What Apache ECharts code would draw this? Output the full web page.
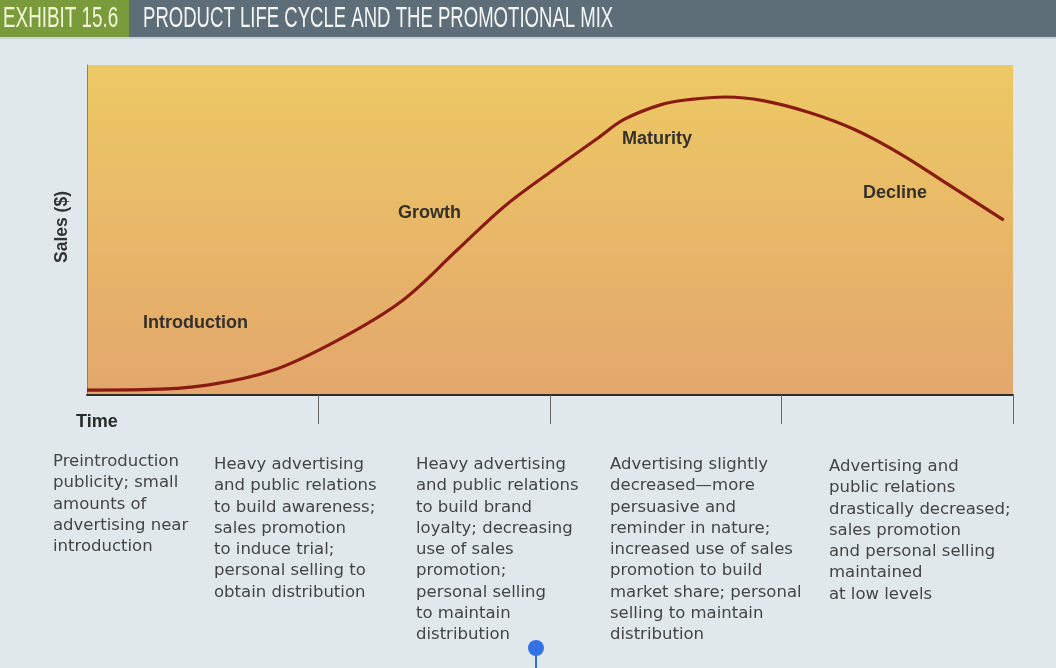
<!DOCTYPE html>
<html>
<head>
<meta charset="utf-8">
<title>Product Life Cycle and the Promotional Mix</title>
<script src="https://cdn.jsdelivr.net/npm/echarts@6/dist/echarts.min.js"></script>
<style>
  html, body { margin: 0; padding: 0; background: #e1e8eb; }
  #chart { width: 1056px; height: 668px; }
</style>
</head>
<body>
<div id="chart"></div>
<script>
// time position (0-100) and sales level (0-100) along the life-cycle curve
const timeX = [0, 6, 13, 20, 27, 34, 40, 45, 50, 55, 58, 62, 65, 69, 73, 78, 83, 88, 93, 99]
const sales = [1.5, 1.6, 3.0, 7.4, 16.5, 28.5, 44.0, 57.0, 67.5, 77.5, 83.5, 88.0, 89.5,
  90.3, 89.2, 85.6, 80.3, 72.8, 63.8, 53.0]

const stageTicks = [25, 50, 75, 100]
const stageNames = ['Introduction', 'Growth', 'Maturity', 'Decline']
const mixNotes = [
  ['Preintroduction', 'publicity; small', 'amounts of', 'advertising near', 'introduction'],
  ['Heavy advertising', 'and public relations', 'to build awareness;', 'sales promotion',
    'to induce trial;', 'personal selling to', 'obtain distribution'],
  ['Heavy advertising', 'and public relations', 'to build brand', 'loyalty; decreasing',
    'use of sales', 'promotion;', 'personal selling', 'to maintain', 'distribution'],
  ['Advertising slightly', 'decreased\u2014more', 'persuasive and', 'reminder in nature;',
    'increased use of sales', 'promotion to build', 'market share; personal',
    'selling to maintain', 'distribution'],
  ['Advertising and', 'public relations', 'drastically decreased;', 'sales promotion',
    'and personal selling', 'maintained', 'at low levels'],
]

const BOLD = 'bold 18px "Liberation Sans", Arial, sans-serif'
const stagePos = [[143, 323], [398, 213], [622, 139], [863, 193]]
const notePos = [[53, 451], [214, 454], [416, 454], [610, 454], [829, 456]]

const chart = echarts.init(document.getElementById('chart'))

const graphics = [
  { type: 'rect', shape: { x: 0, y: 0, width: 129, height: 37 }, style: { fill: '#7a9b3c' } },
  { type: 'rect', shape: { x: 129, y: 0, width: 927, height: 37 }, style: { fill: '#5e6e79' } },
  { type: 'rect', shape: { x: 0, y: 37, width: 1056, height: 2 }, style: { fill: '#c9d2d7' } },
  {
    type: 'text', x: 3, y: 19, scaleX: 0.65,
    style: { text: 'EXHIBIT 15.6', fill: '#f3f6d8', font: '29px "Liberation Sans", Arial, sans-serif', verticalAlign: 'middle' },
  },
  {
    type: 'text', x: 143, y: 19, scaleX: 0.64,
    style: { text: 'PRODUCT LIFE CYCLE AND THE PROMOTIONAL MIX', fill: '#f4f6f6', font: '29px "Liberation Sans", Arial, sans-serif', verticalAlign: 'middle' },
  },
  {
    type: 'text', x: 62, y: 227, rotation: Math.PI / 2,
    style: { text: 'Sales ($)', fill: '#333', font: 'bold 17.5px "Liberation Sans", Arial, sans-serif', align: 'center', verticalAlign: 'middle' },
  },
  {
    type: 'text', x: 76, y: 422,
    style: { text: 'Time', fill: '#2b2b2b', font: BOLD, verticalAlign: 'middle' },
  },
  // cursor marker in the scan
  { type: 'line', shape: { x1: 536, y1: 652, x2: 536, y2: 668 }, style: { stroke: '#2f6fe0', lineWidth: 2 } },
  { type: 'circle', shape: { cx: 536, cy: 648, r: 8 }, style: { fill: '#3472e3' } },
]

stageNames.forEach((name, i) => {
  graphics.push({
    type: 'text', x: stagePos[i][0], y: stagePos[i][1], z: 10,
    style: { text: name, fill: '#34302a', font: BOLD, verticalAlign: 'middle' },
  })
})

mixNotes.forEach((lines, i) => {
  graphics.push({
    type: 'text', x: notePos[i][0], y: notePos[i][1],
    style: {
      text: lines.join('\n'), fill: '#444',
      font: '16.5px "DejaVu Sans", sans-serif', lineHeight: 21.3, verticalAlign: 'top',
    },
  })
})

chart.setOption({
  backgroundColor: '#e1e8eb',
  animation: false,
  grid: {
    left: 87, top: 65, width: 926, height: 330,
    show: true, borderWidth: 0,
    backgroundColor: new echarts.graphic.LinearGradient(0, 0, 0, 1, [
      { offset: 0, color: '#edc964' },
      { offset: 1, color: '#e3a76d' },
    ]),
  },
  xAxis: {
    type: 'value', min: 0, max: 100,
    axisLine: { show: true, lineStyle: { color: '#2e2e2a', width: 2 } },
    axisTick: { show: true, length: 29, customValues: stageTicks, lineStyle: { color: '#666', width: 1 } },
    axisLabel: { show: false },
    splitLine: { show: false },
  },
  yAxis: {
    type: 'value', min: 0, max: 100,
    axisLine: { show: true, lineStyle: { color: '#8a8270', width: 1 } },
    axisTick: { show: false },
    axisLabel: { show: false },
    splitLine: { show: false },
  },
  series: [
    {
      type: 'line', name: 'Sales',
      data: timeX.map((t, i) => [t, sales[i]]),
      smooth: 0.35, showSymbol: false, silent: true,
      lineStyle: { color: '#8a1b12', width: 3.2 },
    },
  ],
  graphic: graphics,
})
</script>
</body>
</html>
